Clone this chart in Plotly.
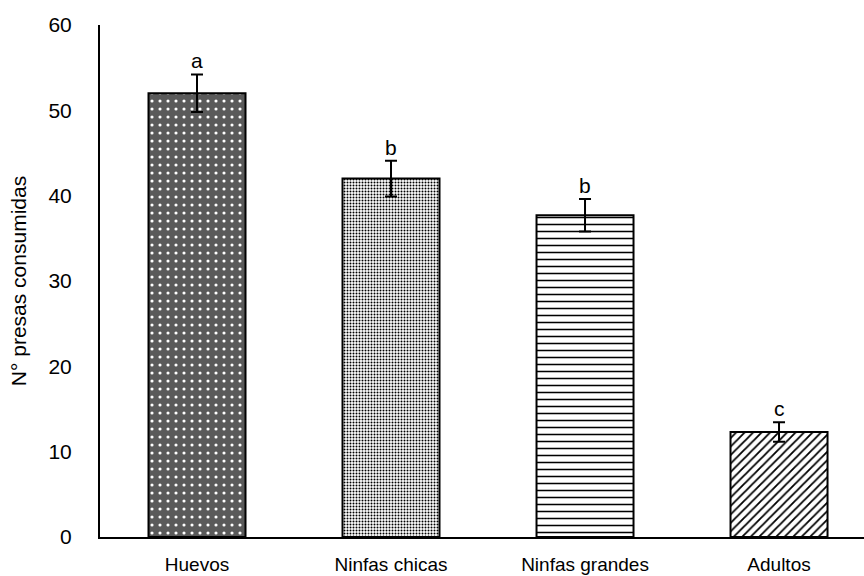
import plotly.graph_objects as go

categories = ["Huevos", "Ninfas chicas", "Ninfas grandes", "Adultos"]
values = [52.0, 42.0, 37.7, 12.3]
errors = [2.2, 2.1, 1.9, 1.15]
letters = ["a", "b", "b", "c"]
y_ticks = [0, 10, 20, 30, 40, 50, 60]

shapes = [".", ".", "-", "/"]
pat_size = [8, 3, 7, 6]
pat_sol = [0.12, 0.35, 0.22, 0.3]
pat_fg = ["white", "black", "black", "black"]
pat_bg = ["#5a5a5a", "white", "white", "white"]

FONT = "Liberation Sans, Arial"

fig = go.Figure()
fig.add_trace(go.Bar(
    x=categories, y=values, width=0.5,
    marker=dict(color="white", line=dict(color="black", width=2),
                pattern=dict(shape=shapes, size=pat_size, solidity=pat_sol,
                             fgcolor=pat_fg, bgcolor=pat_bg, fillmode="replace")),
    error_y=dict(type="data", array=errors, visible=True, color="black",
                 thickness=2, width=6),
))

for c, v, e, l in zip(categories, values, errors, letters):
    fig.add_annotation(x=c, y=v + e, text=l, showarrow=False, yanchor="bottom",
                       yshift=0, font=dict(size=21, color="black", family=FONT))

fig.update_layout(
    width=864, height=576,
    margin=dict(l=100, r=0, t=25, b=39, autoexpand=False),
    paper_bgcolor="white", plot_bgcolor="white",
    showlegend=False,
    font=dict(family=FONT, color="black"),
)
fig.update_xaxes(range=[-0.5, 3.438], showline=True, linecolor="black", linewidth=2,
                 ticks="", tickfont=dict(size=19), ticklabelstandoff=9,
                 showgrid=False, zeroline=False, automargin=False)
fig.update_yaxes(range=[0, 60], tickvals=y_ticks, showline=True, linecolor="black",
                 linewidth=2, ticks="", tickfont=dict(size=21), ticklabelstandoff=22,
                 showgrid=False, zeroline=False, automargin=False,
                 title=dict(text="N° presas consumidas", font=dict(size=21), standoff=16))

fig.write_html("out.html", config={"displayModeBar": False},
               post_script="document.body.style.margin='0';document.body.style.padding='0';")
